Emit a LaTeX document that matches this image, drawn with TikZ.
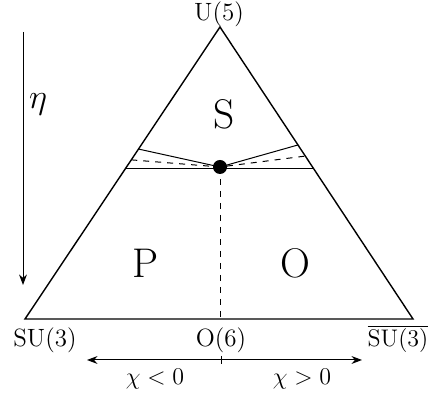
\documentclass[tikz,border=0pt]{standalone}
\usetikzlibrary{arrows.meta,calc}

\tikzset{
    cornerlabel/.style={font=\fontsize{12.5}{15}\selectfont,anchor=base},
    regionlabel/.style={font=\huge},
    thinline/.style={line width=0.5pt}
}

\begin{document}
\begin{tikzpicture}[x=0.5pt,y=-0.5pt,>=Stealth,line width=0.7pt]
    \useasboundingbox (0,0) rectangle (439,394);
    % Triangle corners
    \coordinate (top) at (220,27);
    \coordinate (bl) at (25,319);
    \coordinate (br) at (413,319);
    \draw (top) -- (bl) -- (br) -- cycle;

    % Points on the sides
    \coordinate (hl) at ($(top)!0.486!(bl)$);
    \coordinate (hr) at ($(top)!0.486!(br)$);
    \coordinate (sl) at ($(top)!0.418!(bl)$);
    \coordinate (sr) at ($(top)!0.404!(br)$);
    \coordinate (dl) at ($(top)!0.455!(bl)$);
    \coordinate (dr) at ($(top)!0.442!(br)$);
    \coordinate (fp) at (220,167);

    % Lines into the critical point
    \draw[thinline] (hl) -- (hr);
    \draw[thinline] (sl) -- (fp) -- (sr);
    \draw[thinline,dashed] (dl) -- (fp) -- (dr);
    \draw[thinline,dashed] (fp) -- (fp |- bl);
    \node[circle,fill,inner sep=0pt,minimum size=7pt] (dot) at (fp) {};

    % Corner labels
    \node[cornerlabel] (u5) at (219,21) {U(5)};
    \node[cornerlabel] (su3) at (45,347) {SU(3)};
    \node[cornerlabel] (o6) at (221,347) {O(6)};
    \node[cornerlabel] (su3b) at (398,347) {$\overline{\mathrm{SU(3)}}$};

    % Region labels
    \node[regionlabel] (s) at (224,114) {S};
    \node[regionlabel] (p) at (146,263) {P};
    \node[regionlabel] (o) at (295,263) {O};

    % eta axis
    \coordinate (etatop) at (23,32);
    \coordinate (etabot) at (23,285);
    \draw[->,thinline] (etatop) -- (etabot);
    \node[font=\LARGE] (eta) at (38,104) {$\eta$};

    % chi axis
    \coordinate (al) at (87,360);
    \coordinate (ar) at (362,360);
    \coordinate (mid) at (o6 |- al);
    \draw[<->,thinline] (al) -- (ar);
    \draw[thinline] ($(mid)+(0,-4)$) -- ($(mid)+(0,4)$);
    \node[font=\large,anchor=base] (chin) at (155,385) {$\chi < 0$};
    \node[font=\large,anchor=base] (chip) at (302,385) {$\chi > 0$};
\end{tikzpicture}
\end{document}
